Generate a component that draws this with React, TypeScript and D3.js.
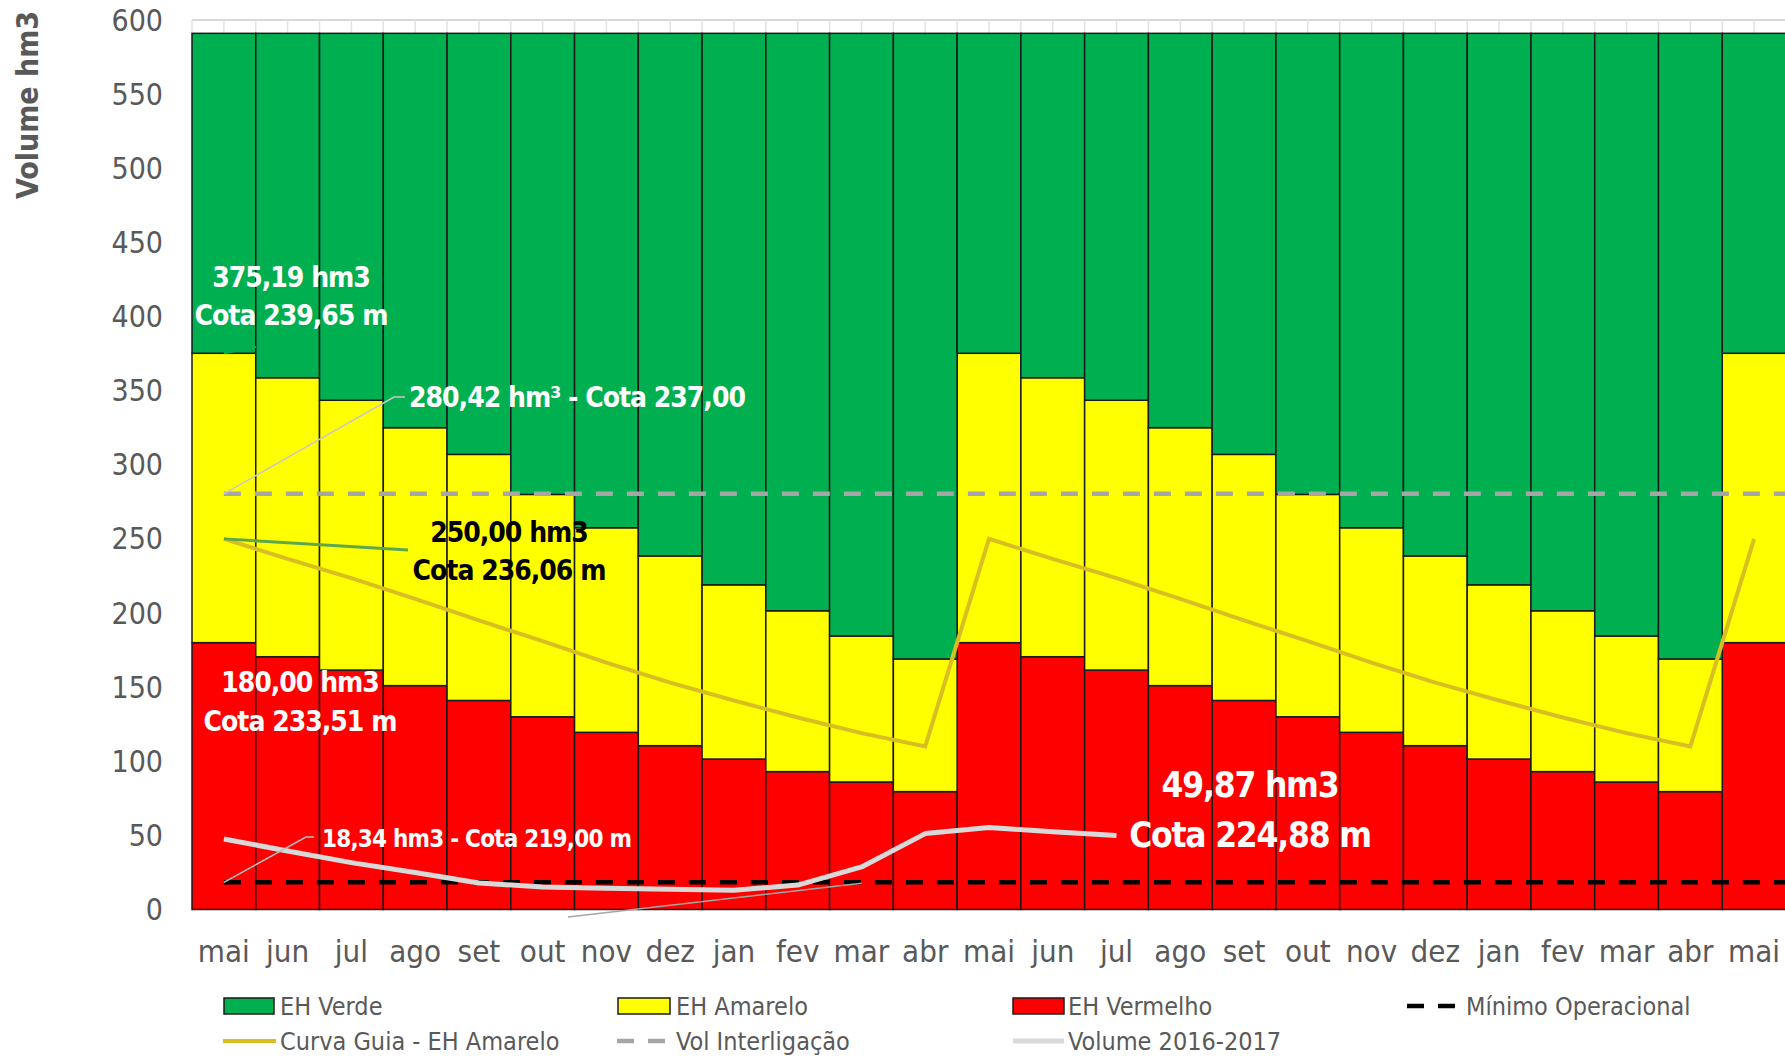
import React from 'react';
import * as d3 from 'd3';

// meses do período (mai/2017 a mai/2019)
const meses = ['mai', 'jun', 'jul', 'ago', 'set', 'out', 'nov', 'dez', 'jan', 'fev', 'mar', 'abr',
  'mai', 'jun', 'jul', 'ago', 'set', 'out', 'nov', 'dez', 'jan', 'fev', 'mar', 'abr', 'mai'];

// faixas dos estados hidrológicos (hm3), empilhadas
const vermelho = [180, 170.5, 161.5, 151, 141, 130, 119.5, 110.5, 101.5, 93, 86, 79.5,
  180, 170.5, 161.5, 151, 141, 130, 119.5, 110.5, 101.5, 93, 86, 79.5, 180];
const amarelo = [195.19, 188.2, 182, 174, 166, 150, 138, 128, 117.5, 108.5, 98.5, 89.5,
  195.19, 188.2, 182, 174, 166, 150, 138, 128, 117.5, 108.5, 98.5, 89.5, 195.19];
const verde = [215.81, 232.3, 247.5, 266, 284, 311, 333.5, 352.5, 372, 389.5, 406.5, 422,
  215.81, 232.3, 247.5, 266, 284, 311, 333.5, 352.5, 372, 389.5, 406.5, 422, 215.81];

const curvaGuia = [250, 236.5, 223.5, 209.5, 195, 181, 166.5, 153, 141, 129.5, 119, 110,
  250, 236.5, 223.5, 209.5, 195, 181, 166.5, 153, 141, 129.5, 119, 110, 250];
const volume2016 = [47.6, 39.5, 31.6, 24.9, 17.9, 15.2, 14.3, 13.6, 13, 16.5, 28.7, 51.2, 55.3, 52.5, 49.87];

const minimoOperacional = 18.34;
const volInterligacao = 280.42;
const yTicks = [0, 50, 100, 150, 200, 250, 300, 350, 400, 450, 500, 550, 600];

const FONT = "'Liberation Sans Narrow', 'DejaVu Sans Condensed', 'Roboto Condensed', sans-serif";
const AXIS_GRAY = '#595959';

export default function App() {
  const width = 1785;
  const height = 1056;

  const x = d3.scaleBand<number>().domain(d3.range(meses.length)).range([192, 1786]).padding(0);
  const y = d3.scaleLinear().domain([0, 600]).range([909.5, 20]);
  const cx = (i: number) => (x(i) as number) + x.bandwidth() / 2;

  const rows = meses.map((m, i) => ({ vermelho: vermelho[i], amarelo: amarelo[i], verde: verde[i] }));
  const series = d3.stack<any>().keys(['vermelho', 'amarelo', 'verde'])(rows);
  const fills: Record<string, string> = { vermelho: '#FF0000', amarelo: '#FFFF00', verde: '#00B050' };

  const line = d3.line<number>().x((d, i) => cx(i)).y(d => y(d));
  const stackTop = y(d3.max(series[2], d => d[1]) as number);

  // linhas de grade verticais (meia faixa) acima das barras
  const gridX = d3.range(meses.length * 2 + 1).map(k => x.range()[0] + k * x.bandwidth() / 2);

  return (
    <svg width={width} height={height} style={{ position: 'absolute', left: 0, top: 0, background: '#fff' }}
      fontFamily={FONT}>
      {/* grade */}
      <line x1={x.range()[0]} x2={width} y1={y(600)} y2={y(600)} stroke="#d9d9d9" strokeWidth={2} />
      {gridX.map((gx, k) => (
        <line key={k} x1={gx} x2={gx} y1={y(600)} y2={stackTop} stroke="#e3e3e3" strokeWidth={1.5} />
      ))}

      {/* barras empilhadas */}
      {series.map(s => (
        <g key={s.key} fill={fills[s.key]} stroke="#1a1a1a" strokeWidth={1.5}>
          {s.map((d, i) => (
            <rect key={i} x={x(i)} width={x.bandwidth()} y={y(d[1])} height={y(d[0]) - y(d[1])} />
          ))}
        </g>
      ))}

      {/* linhas horizontais de referência */}
      <line x1={cx(0)} x2={width} y1={y(volInterligacao)} y2={y(volInterligacao)}
        stroke="#a6a6a6" strokeWidth={4.5} strokeDasharray="17 14" />
      <line x1={cx(0)} x2={width} y1={y(minimoOperacional)} y2={y(minimoOperacional)}
        stroke="#000" strokeWidth={4.5} strokeDasharray="17 14" />

      {/* curva guia e volume observado */}
      <path d={line(curvaGuia) || ''} fill="none" stroke="#D9BE22" strokeWidth={4} />
      <path d={line(volume2016) || ''} fill="none" stroke="#d9d9d9" strokeWidth={5} strokeLinejoin="round" />

      {/* eixo y */}
      {yTicks.map(t => (
        <text key={t} x={163} y={y(t)} textAnchor="end" dominantBaseline="central"
          fontSize={30} fill={AXIS_GRAY}>{t}</text>
      ))}
      <text transform={`translate(27,105) rotate(-90)`} textAnchor="middle" dominantBaseline="central"
        fontSize={30} fontWeight="bold" fill={AXIS_GRAY}>Volume hm3</text>

      {/* eixo x */}
      {meses.map((m, i) => (
        <text key={i} x={cx(i)} y={951} textAnchor="middle" dominantBaseline="central"
          fontSize={31} fill={AXIS_GRAY}>{m}</text>
      ))}

      {/* anotações */}
      <line x1={cx(0)} y1={y(375.19)} x2={256} y2={347} stroke="#00B050" strokeWidth={2} />
      <g fill="#fff" fontWeight="bold" fontSize={28} letterSpacing={-1} textAnchor="middle" dominantBaseline="central">
        <text x={291} y={277}>375,19 hm3</text>
        <text x={291} y={315}>Cota 239,65 m</text>
      </g>

      <polyline points={`${cx(0)},${y(volInterligacao)} 394,397 405,397`} fill="none" stroke="#c8c8c8" strokeWidth={1.5} />
      <text x={409} y={397} fill="#fff" fontWeight="bold" fontSize={28} letterSpacing={-1}
        dominantBaseline="central">280,42 hm³ - Cota 237,00</text>

      <line x1={cx(0)} y1={y(250)} x2={408} y2={550} stroke="#5fa84a" strokeWidth={3} />
      <g fill="#000" fontWeight="bold" fontSize={28} letterSpacing={-1} textAnchor="middle" dominantBaseline="central">
        <text x={509} y={532}>250,00 hm3</text>
        <text x={509} y={570}>Cota 236,06 m</text>
      </g>

      <g fill="#fff" fontWeight="bold" fontSize={28} letterSpacing={-1} textAnchor="middle" dominantBaseline="central">
        <text x={300} y={682}>180,00 hm3</text>
        <text x={300} y={721}>Cota 233,51 m</text>
      </g>

      <polyline points={`${cx(0)},${y(minimoOperacional)} 306,837 314,837`} fill="none" stroke="#bfbfbf" strokeWidth={1.5} />
      <text x={322} y={839} fill="#fff" fontWeight="bold" fontSize={24} letterSpacing={-0.8}
        dominantBaseline="central">18,34 hm3 - Cota 219,00 m</text>

      <line x1={568} y1={917} x2={cx(10)} y2={y(minimoOperacional) + 1} stroke="#a6a6a6" strokeWidth={1.5} />

      <g fill="#fff" fontWeight="bold" fontSize={35} letterSpacing={-1.2} textAnchor="middle" dominantBaseline="central">
        <text x={1250} y={785}>49,87 hm3</text>
        <text x={1250} y={835}>Cota 224,88 m</text>
      </g>

      {/* legenda */}
      <g fontSize={25} fill={AXIS_GRAY} dominantBaseline="central">
        <rect x={224} y={998} width={50} height={16} fill="#00B050" stroke="#1a1a1a" strokeWidth={1.5} />
        <text x={280} y={1006}>EH Verde</text>
        <rect x={618} y={998} width={52} height={16} fill="#FFFF00" stroke="#1a1a1a" strokeWidth={1.5} />
        <text x={676} y={1006}>EH Amarelo</text>
        <rect x={1013} y={998} width={51} height={16} fill="#FF0000" stroke="#1a1a1a" strokeWidth={1.5} />
        <text x={1068} y={1006}>EH Vermelho</text>
        <line x1={1407} x2={1459} y1={1006} y2={1006} stroke="#000" strokeWidth={4.5} strokeDasharray="17 14" />
        <text x={1466} y={1006}>Mínimo Operacional</text>

        <line x1={223} x2={276} y1={1041} y2={1041} stroke="#D9BE22" strokeWidth={4} />
        <text x={280} y={1041}>Curva Guia - EH Amarelo</text>
        <line x1={617} x2={666} y1={1041} y2={1041} stroke="#a6a6a6" strokeWidth={4.5} strokeDasharray="17 14" />
        <text x={676} y={1041}>Vol Interligação</text>
        <line x1={1013} x2={1064} y1={1041} y2={1041} stroke="#d9d9d9" strokeWidth={5} />
        <text x={1068} y={1041}>Volume 2016-2017</text>
      </g>
    </svg>
  );
}
